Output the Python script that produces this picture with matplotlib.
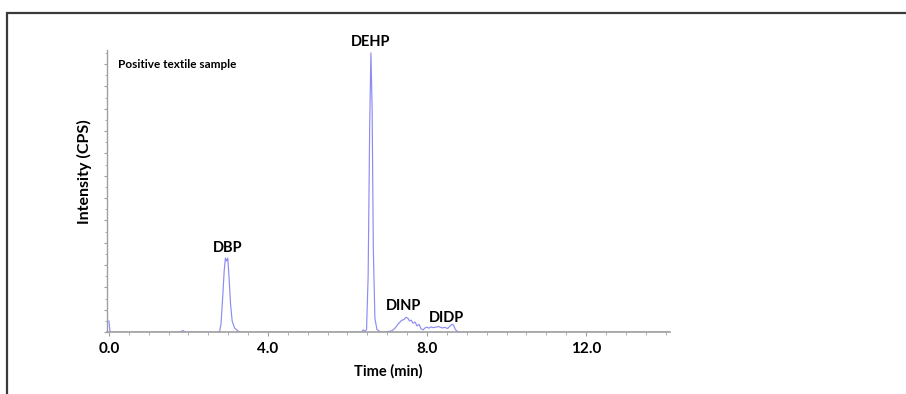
"""
Chromatogram of a positive textile sample (phthalates)
"""
import matplotlib
matplotlib.use('Agg')
import matplotlib.pyplot as plt
import matplotlib.patches as mpatches
from matplotlib.ticker import MultipleLocator, FixedLocator

plt.rcParams['font.family'] = ['Lato', 'DejaVu Sans']

# ─────────────────────────────────────────────────────────────────────────────
# DATA (intensity as % of the DEHP peak)
# ─────────────────────────────────────────────────────────────────────────────
time_min = [0.00, 0.03, 1.80, 1.86, 1.92,
            2.78, 2.82, 2.86, 2.90, 2.93, 2.96, 2.99, 3.02, 3.06, 3.10, 3.16, 3.24, 3.30,
            6.35, 6.40, 6.44, 6.48, 6.52, 6.56, 6.59, 6.62, 6.65, 6.69, 6.74, 6.80, 6.90,
            7.05, 7.12, 7.20, 7.28, 7.36, 7.42, 7.47, 7.52, 7.56, 7.60, 7.65, 7.70, 7.75,
            7.80, 7.85, 7.90, 7.95, 8.00, 8.05, 8.10, 8.15, 8.22, 8.30, 8.38, 8.45, 8.52,
            8.58, 8.63, 8.67, 8.71, 8.76, 8.80, 14.10]
intensity = [4.0, 0.0, 0.0, 0.6, 0.0,
             0.0, 3.0, 12.0, 22.0, 26.5, 25.5, 26.5, 20.0, 10.0, 4.0, 1.5, 0.5, 0.0,
             0.0, 0.8, 0.2, 1.0, 20.0, 75.0, 100.0, 80.0, 30.0, 5.0, 1.0, 0.3, 0.0,
             0.3, 0.5, 1.5, 3.0, 4.2, 4.5, 5.3, 5.0, 4.0, 4.3, 3.2, 3.6, 2.2,
             2.8, 1.2, 0.8, 1.5, 1.8, 1.4, 1.9, 1.6, 1.8, 2.0, 1.5, 1.7, 1.3,
             2.2, 2.8, 2.5, 1.0, 0.3, 0.0, 0.0]

peak_names = ['DBP', 'DEHP', 'DINP', 'DIDP']
peak_label_x = [2.98, 6.58, 7.42, 8.48]
peak_label_y = [27.5, 101.5, 6.8, 2.5]

x_ticks = [0.0, 4.0, 8.0, 12.0]

LINE = '#8c8cf2'
AXIS = '#a0a0a0'

fig = plt.figure(figsize=(9.06, 3.94), dpi=100)
ax = fig.add_axes([0.118, 0.157, 0.621, 0.716])

ax.plot(time_min, intensity, color=LINE, linewidth=0.85)

# Peak labels
for name, px, py in zip(peak_names, peak_label_x, peak_label_y):
    ax.text(px, py, name, ha='center', va='bottom', fontsize=10.5,
            fontweight='bold', color='black')

ax.text(0.02, 0.95, 'Positive textile sample', transform=ax.transAxes,
        ha='left', va='center', fontsize=8.5, fontweight='bold')

ax.set_xlim(-0.05, 14.1)
ax.set_ylim(0, 101)

ax.xaxis.set_major_locator(FixedLocator(x_ticks))
ax.xaxis.set_minor_locator(MultipleLocator(0.5))
ax.set_xticklabels([f'{t:.1f}' for t in x_ticks], fontsize=11, fontweight='bold')
ax.yaxis.set_major_locator(MultipleLocator(8))
ax.yaxis.set_minor_locator(MultipleLocator(4))
ax.set_yticklabels([])
ax.tick_params(axis='x', which='major', length=3, color=AXIS, pad=4)
ax.tick_params(axis='x', which='minor', length=2, color=AXIS)
ax.tick_params(axis='y', which='major', length=2.5, color=AXIS)
ax.tick_params(axis='y', which='minor', length=1.5, color=AXIS)

ax.set_xlabel('Time (min)', fontsize=10.5, fontweight='bold', labelpad=6)
ax.set_ylabel('Intensity (CPS)', fontsize=11.5, fontweight='bold')
ax.yaxis.set_label_coords(-0.026, 0.57)

ax.spines['top'].set_visible(False)
ax.spines['right'].set_visible(False)
ax.spines['left'].set_color(AXIS)
ax.spines['bottom'].set_color(AXIS)
ax.spines['left'].set_linewidth(1.0)
ax.spines['bottom'].set_linewidth(1.2)

# Frame around the panel (runs off the right and bottom edges)
fig.add_artist(mpatches.Rectangle((7 / 906, -0.5), 2.0, 0.5 + 1 - 13 / 394,
                                  transform=fig.transFigure, fill=False,
                                  edgecolor='#3a3a3a', linewidth=1.6))

plt.savefig('out.png', dpi=100, facecolor='white')
plt.close()
